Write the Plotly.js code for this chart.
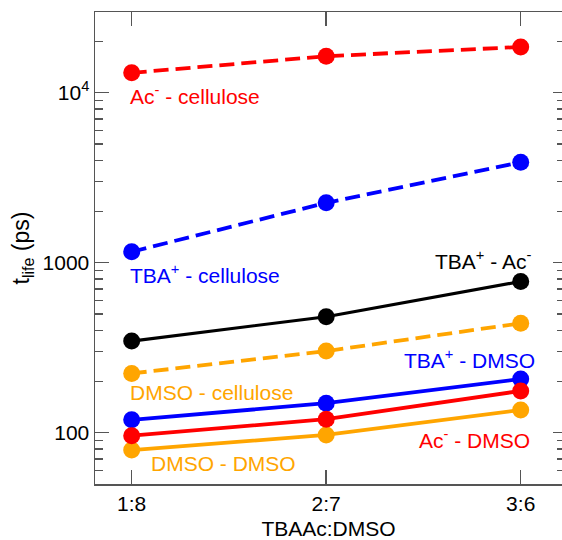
<!DOCTYPE html>
<html>
<head>
<meta charset="utf-8">
<script src="https://cdn.plot.ly/plotly-3.0.1.min.js"></script>
<style>
html, body { margin: 0; padding: 0; overflow: hidden; background: #fff; }
#chart { width: 562px; height: 540px; }
</style>
</head>
<body>
<div id="chart"></div>
<script>
// ---- data ----
const categories = ['1:8', '2:7', '3:6'];
const acCellulose   = [13100, 16400, 18600];
const tbaCellulose  = [1160, 2250, 3900];
const tbaAc         = [346, 481, 775];
const dmsoCellulose = [223, 302, 440];
const tbaDmso       = [119, 149, 207];
const acDmso        = [96, 120, 176];
const dmsoDmso      = [79, 97, 136];

const majorTickVals = [100, 1000, 10000];
const majorTickText = ['100', '1000', '10<sup>4</sup>'];
const minorTickVals = [50, 60, 70, 80, 90, 200, 300, 400, 500, 600, 700, 800, 900,
                       2000, 3000, 4000, 5000, 6000, 7000, 8000, 9000, 20000];

const RED = '#ff0000', BLUE = '#0000ff', ORANGE = '#ffa500', BLACK = '#000000';
const DASH = '15px,7px';

function series(y, color, dash, width) {
  return {
    x: categories, y: y, type: 'scatter', mode: 'lines+markers',
    line: { color: color, width: width || 3.8, dash: dash || 'solid' },
    marker: { color: color, size: 17 },
    hoverinfo: 'skip', showlegend: false
  };
}

function axisCarrier(axisId) {
  return { x: categories, y: tbaAc, yaxis: axisId, type: 'scatter', mode: 'none',
    hoverinfo: 'skip', showlegend: false };
}

const traces = [
  series(acCellulose, RED, DASH),
  series(tbaCellulose, BLUE, DASH),
  series(tbaAc, BLACK, 'solid', 3.2),
  series(dmsoCellulose, ORANGE, DASH),
  series(dmsoDmso, ORANGE),
  series(tbaDmso, BLUE),
  series(acDmso, RED),
  axisCarrier('y2'), axisCarrier('y3'), axisCarrier('y4')
];

const FONT = 'Liberation Sans, Arial, sans-serif';
const AX = '#555555';
const yRange = [1.698, 4.475];

function ann(text, x, y, color, xanchor) {
  return { text: text, x: x, y: y, xref: 'x', yref: 'y', showarrow: false,
    xanchor: xanchor, yanchor: 'middle', font: { family: FONT, size: 21, color: color } };
}

function tickAxis(side, vals, len) {
  return {
    type: 'log', range: yRange, overlaying: 'y', side: side, anchor: 'x',
    showgrid: false, zeroline: false, showline: false,
    ticks: 'inside', ticklen: len, tickwidth: 1.5, tickcolor: AX,
    tickmode: 'array', tickvals: vals, showticklabels: false
  };
}

const layout = {
  width: 562, height: 540,
  margin: { l: 95, r: 0, t: 12, b: 56 },
  paper_bgcolor: '#fff', plot_bgcolor: '#fff',
  font: { family: FONT, size: 21, color: '#000' },
  xaxis: {
    type: 'category', range: [-0.1887, 2.2123],
    showgrid: false, zeroline: false,
    showline: true, linecolor: AX, linewidth: 1.5, mirror: 'ticks',
    ticks: 'inside', ticklen: 14, tickwidth: 1.5, tickcolor: AX,
    tickfont: { family: FONT, size: 21, color: '#000' },
    title: { text: 'TBAAc:DMSO', font: { family: FONT, size: 21, color: '#000' }, standoff: 10 }
  },
  yaxis: {
    type: 'log', range: yRange,
    showgrid: false, zeroline: false,
    showline: true, linecolor: AX, linewidth: 1.5, mirror: false,
    ticks: 'inside', ticklen: 14, tickwidth: 1.5, tickcolor: AX,
    tickmode: 'array', tickvals: majorTickVals, ticktext: majorTickText,
    tickfont: { family: FONT, size: 21, color: '#000' },
    title: { text: 't<sub>life</sub> (ps)', font: { family: FONT, size: 23, color: '#000' }, standoff: 6 }
  },
  yaxis2: tickAxis('left', minorTickVals, 8),
  yaxis3: tickAxis('right', majorTickVals, 9),
  yaxis4: tickAxis('right', minorTickVals, 5),
  annotations: [
    ann('Ac<sup>-</sup> - cellulose', -0.019, 3.986, RED, 'left'),
    ann('TBA<sup>+</sup> - cellulose', -0.019, 2.9335, BLUE, 'left'),
    ann('TBA<sup>+</sup> - Ac<sup>-</sup>', 2.063, 3.016, BLACK, 'right'),
    ann('TBA<sup>+</sup> - DMSO', 2.085, 2.4335, BLUE, 'right'),
    ann('DMSO - cellulose', -0.019, 2.2335, ORANGE, 'left'),
    ann('Ac<sup>-</sup> - DMSO', 2.06, 1.961, RED, 'right'),
    ann('DMSO - DMSO', 0.089, 1.819, ORANGE, 'left')
  ]
};

Plotly.newPlot('chart', traces, layout, { displayModeBar: false, staticPlot: true });
</script>
</body>
</html>
